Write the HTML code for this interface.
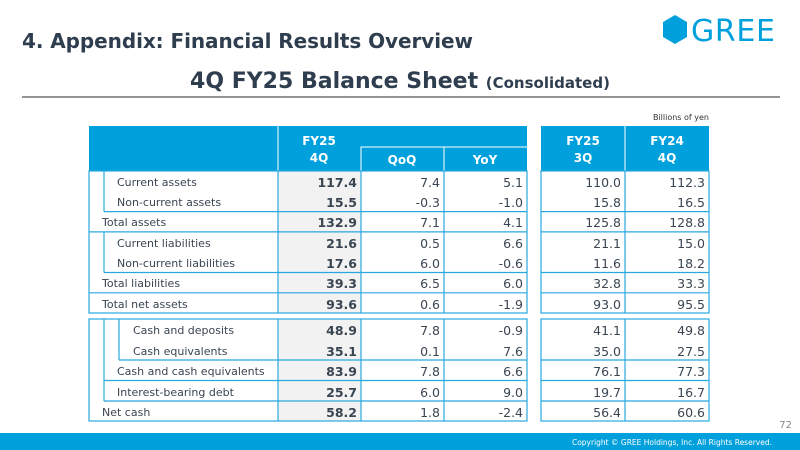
<!DOCTYPE html>
<html><head><meta charset="utf-8"><style>
html,body{margin:0;padding:0;background:#fff;width:800px;height:450px;overflow:hidden}
svg text{font-family:"DejaVu Sans","Liberation Sans",sans-serif}
</style></head><body>
<svg width="800" height="450" viewBox="0 0 800 450" xmlns="http://www.w3.org/2000/svg">
<text x="22" y="48" font-size="20" font-weight="bold" fill="#2f3e4e" font-family="Liberation Sans" textLength="451">4. Appendix: Financial Results Overview</text>
<polygon points="675,15 687,22 687,37 675,44 663,37 663,22" fill="#00a0dc"/>
<text x="691" y="41" font-size="30" fill="#00a0dc" font-family="Liberation Sans" textLength="84">GREE</text>
<text x="400" y="88" text-anchor="middle" fill="#2f3e4e" font-weight="bold" font-family="Liberation Sans"><tspan font-size="22">4Q FY25 Balance Sheet </tspan><tspan font-size="15">(Consolidated)</tspan></text>
<line x1="22" y1="97" x2="780" y2="97" stroke="#555" stroke-width="1.2"/>
<text x="709" y="120" font-size="8" fill="#333" text-anchor="end">Billions of yen</text>

<rect x="89" y="126" width="438" height="45" fill="#00a0dc"/>
<rect x="541" y="126" width="168" height="45" fill="#00a0dc"/>
<g stroke="#fff" stroke-width="1" fill="none">
<line x1="278" y1="126" x2="278" y2="171"/>
<polyline points="361,171 361,147 527,147"/>
<line x1="444" y1="147" x2="444" y2="171"/>
<line x1="625" y1="126" x2="625" y2="171"/>
</g>
<g fill="#fff" font-weight="bold" font-size="12" text-anchor="middle">
<text x="319" y="145">FY25</text><text x="319" y="162">4Q</text>
<text x="402" y="164">QoQ</text><text x="485" y="164">YoY</text>
<text x="583" y="145">FY25</text><text x="583" y="162">3Q</text>
<text x="667" y="145">FY24</text><text x="667" y="162">4Q</text>
</g>

<rect x="278" y="171" width="83" height="142" fill="#f2f2f2"/>
<rect x="278" y="319" width="83" height="102" fill="#f2f2f2"/>

<g stroke="#29a8e0" stroke-width="1.2" fill="none">
<rect x="89" y="171" width="438" height="142"/>
<rect x="541" y="171" width="168" height="142"/>
<line x1="278" y1="171" x2="278" y2="313"/><line x1="361" y1="171" x2="361" y2="313"/><line x1="444" y1="171" x2="444" y2="313"/><line x1="625" y1="171" x2="625" y2="313"/>
<line x1="104" y1="171" x2="104" y2="211.6"/><line x1="104" y1="211.6" x2="527" y2="211.6"/>
<line x1="89" y1="231.9" x2="527" y2="231.9"/>
<line x1="104" y1="231.9" x2="104" y2="272.5"/><line x1="104" y1="272.5" x2="527" y2="272.5"/>
<line x1="89" y1="292.8" x2="527" y2="292.8"/>
<line x1="541" y1="211.6" x2="709" y2="211.6"/><line x1="541" y1="231.9" x2="709" y2="231.9"/><line x1="541" y1="272.5" x2="709" y2="272.5"/><line x1="541" y1="292.8" x2="709" y2="292.8"/>
<rect x="89" y="319" width="438" height="102"/>
<rect x="541" y="319" width="168" height="102"/>
<line x1="278" y1="319" x2="278" y2="421"/><line x1="361" y1="319" x2="361" y2="421"/><line x1="444" y1="319" x2="444" y2="421"/><line x1="625" y1="319" x2="625" y2="421"/>
<line x1="104" y1="319" x2="104" y2="401"/><line x1="119" y1="319" x2="119" y2="360"/>
<line x1="119" y1="360" x2="527" y2="360"/><line x1="104" y1="380.5" x2="527" y2="380.5"/><line x1="104" y1="401" x2="527" y2="401"/>
<line x1="541" y1="360" x2="709" y2="360"/><line x1="541" y1="380.5" x2="709" y2="380.5"/><line x1="541" y1="401" x2="709" y2="401"/>
</g>

<g font-size="11" fill="#3a4552">
<text x="117" y="186">Current assets</text>
<text x="117" y="206">Non-current assets</text>
<text x="102" y="226">Total assets</text>
<text x="117" y="247">Current liabilities</text>
<text x="117" y="267">Non-current liabilities</text>
<text x="102" y="287">Total liabilities</text>
<text x="102" y="308">Total net assets</text>
<text x="133" y="334">Cash and deposits</text>
<text x="133" y="355">Cash equivalents</text>
<text x="117" y="375">Cash and cash equivalents</text>
<text x="117" y="396">Interest-bearing debt</text>
<text x="102" y="416">Net cash</text>
</g>
<g font-size="12.5" font-weight="bold" fill="#3a4552" text-anchor="end">
<text x="357" y="187">117.4</text><text x="357" y="207">15.5</text><text x="357" y="227">132.9</text><text x="357" y="248">21.6</text><text x="357" y="268">17.6</text><text x="357" y="288">39.3</text><text x="357" y="309">93.6</text>
<text x="357" y="335">48.9</text><text x="357" y="356">35.1</text><text x="357" y="376">83.9</text><text x="357" y="397">25.7</text><text x="357" y="417">58.2</text>
</g>
<g font-size="12.5" fill="#3a4552" text-anchor="end">
<text x="440" y="187">7.4</text><text x="440" y="207">-0.3</text><text x="440" y="227">7.1</text><text x="440" y="248">0.5</text><text x="440" y="268">6.0</text><text x="440" y="288">6.5</text><text x="440" y="309">0.6</text>
<text x="440" y="335">7.8</text><text x="440" y="356">0.1</text><text x="440" y="376">7.8</text><text x="440" y="397">6.0</text><text x="440" y="417">1.8</text>
<text x="523" y="187">5.1</text><text x="523" y="207">-1.0</text><text x="523" y="227">4.1</text><text x="523" y="248">6.6</text><text x="523" y="268">-0.6</text><text x="523" y="288">6.0</text><text x="523" y="309">-1.9</text>
<text x="523" y="335">-0.9</text><text x="523" y="356">7.6</text><text x="523" y="376">6.6</text><text x="523" y="397">9.0</text><text x="523" y="417">-2.4</text>
<text x="621" y="187">110.0</text><text x="621" y="207">15.8</text><text x="621" y="227">125.8</text><text x="621" y="248">21.1</text><text x="621" y="268">11.6</text><text x="621" y="288">32.8</text><text x="621" y="309">93.0</text>
<text x="621" y="335">41.1</text><text x="621" y="356">35.0</text><text x="621" y="376">76.1</text><text x="621" y="397">19.7</text><text x="621" y="417">56.4</text>
<text x="705" y="187">112.3</text><text x="705" y="207">16.5</text><text x="705" y="227">128.8</text><text x="705" y="248">15.0</text><text x="705" y="268">18.2</text><text x="705" y="288">33.3</text><text x="705" y="309">95.5</text>
<text x="705" y="335">49.8</text><text x="705" y="356">27.5</text><text x="705" y="376">77.3</text><text x="705" y="397">16.7</text><text x="705" y="417">60.6</text>
</g>
<text x="792" y="428" font-size="10" fill="#888" text-anchor="end">72</text>
<rect x="0" y="433" width="800" height="17" fill="#00a0dc"/>
<text x="772" y="445" font-size="7.5" fill="#fff" text-anchor="end">Copyright © GREE Holdings, Inc. All Rights Reserved.</text>
</svg>
</body></html>
